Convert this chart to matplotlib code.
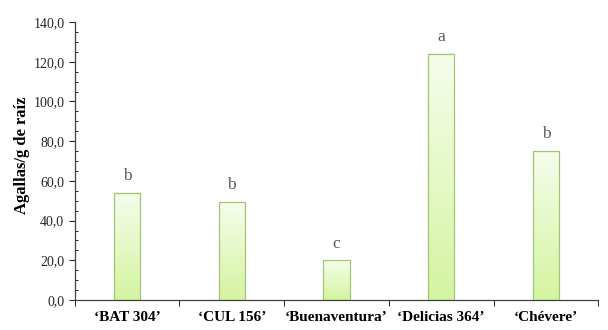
import numpy as np
import matplotlib
matplotlib.use("Agg")
import matplotlib.pyplot as plt
from matplotlib.ticker import MultipleLocator, FuncFormatter
from matplotlib.colors import LinearSegmentedColormap

cultivares = ["\u2018BAT 304\u2019", "\u2018CUL 156\u2019", "\u2018Buenaventura\u2019",
              "\u2018Delicias 364\u2019", "\u2018Ch\u00e9vere\u2019"]
agallas = [54.0, 49.3, 19.9, 124.0, 75.0]
letras = ["b", "b", "c", "a", "b"]

plt.rcParams['font.family'] = ['Liberation Serif', 'DejaVu Serif']

fig = plt.figure(figsize=(6.08, 3.30), dpi=100)
ax = fig.add_axes([0.123, 0.091, 0.861, 0.842])

x = np.arange(len(cultivares))
ancho = 0.25
bars = ax.bar(x, agallas, width=ancho, color="none", edgecolor="#a3c474",
              linewidth=0.9, zorder=3)

# degradado verde claro en cada barra
grad = np.linspace(0, 1, 256).reshape(-1, 1)
cmap = LinearSegmentedColormap.from_list("verde", ["#d4f4a0", "#f6fdec"])
for b in bars:
    x0, w, h = b.get_x(), b.get_width(), b.get_height()
    ax.imshow(grad, cmap=cmap, aspect="auto", origin="lower",
              extent=[x0, x0 + w, 0, h], zorder=2)

for xi, v, l in zip(x, agallas, letras):
    ax.text(xi, v + 4.5, l, ha="center", va="bottom", fontsize=12.5, color="#595959")

ax.set_xlim(-0.5, len(cultivares) - 0.5)
ax.set_ylim(0, 140)
ax.yaxis.set_major_locator(MultipleLocator(20))
ax.yaxis.set_minor_locator(MultipleLocator(5))
ax.yaxis.set_major_formatter(FuncFormatter(lambda v, p: f"{v:.1f}".replace(".", ",")))
ax.tick_params(axis="y", which="major", length=4, labelsize=10, colors="#262626")
ax.tick_params(axis="y", which="minor", length=2, direction="in")

ax.set_xticks(x)
ax.set_xticklabels(cultivares, fontsize=11, fontweight="bold")
ax.tick_params(axis="x", which="major", length=0, pad=8)
ax.set_xticks(np.arange(len(cultivares) + 1) - 0.5, minor=True)
ax.tick_params(axis="x", which="minor", length=4)

ax.set_ylabel("Agallas/g de ra\u00edz", fontsize=12, fontweight="bold")
ax.yaxis.set_label_coords(-0.085, 0.52)

for s in ["top", "right"]:
    ax.spines[s].set_visible(False)
for s in ["left", "bottom"]:
    ax.spines[s].set_color("#404040")
    ax.spines[s].set_linewidth(0.9)

fig.savefig("out.png", dpi=100)
